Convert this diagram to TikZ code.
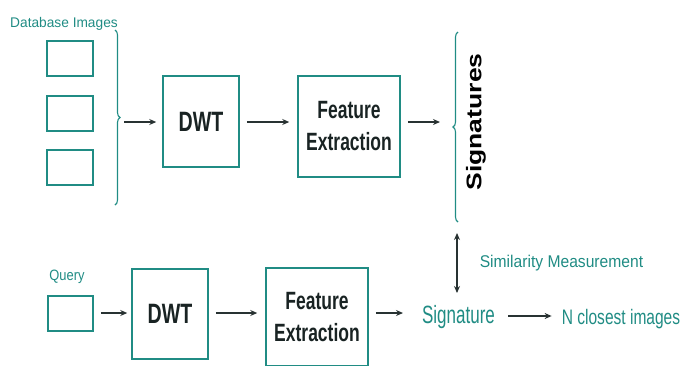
\documentclass[tikz,border=0pt]{standalone}
\usepackage{fontspec}
\setmainfont{Liberation Sans}
\newfontfamily\boxfont{Liberation Sans}[FakeStretch=0.7]
\newcommand\hsq[2]{\scalebox{#1}[1]{#2}}
\usetikzlibrary{arrows.meta,decorations.pathreplacing}
\definecolor{tealc}{RGB}{32,140,132}
\definecolor{arrowc}{RGB}{40,50,50}
\definecolor{boxtext}{RGB}{25,35,35}
\begin{document}
\begin{tikzpicture}[x=1pt,y=-1pt,
  imgbox/.style={draw=tealc,line width=1.5pt,minimum width=46pt,minimum height=35pt,inner sep=0pt},
  procbox/.style={draw=tealc,line width=1.5pt,inner sep=0pt,align=center,text=boxtext,
     font=\boxfont\bfseries\fontsize{25}{32}\selectfont},
  lbl/.style={text=tealc,inner sep=0pt,anchor=base},
  arr/.style={draw=arrowc,line width=1.2pt,-{Stealth[length=7pt,width=6pt]}},
  darr/.style={draw=arrowc,line width=1.2pt,{Stealth[length=7pt,width=6pt]}-{Stealth[length=7pt,width=6pt]}},
  bracec/.style={draw=tealc,line width=1.1pt,decorate,decoration={brace,amplitude=5pt}}]
\useasboundingbox (0,0) rectangle (694,365);
\clip (0,0) rectangle (694,365);
% database images
\node[lbl] (dbl) at (64,27) {\hsq{0.98}{\fontsize{14}{16}\selectfont Database Images}};
\node[imgbox] (db1) at (70,58.5) {};
\node[imgbox] (db2) at (70,113.5) {};
\node[imgbox] (db3) at (70,167.5) {};
\draw[bracec] (115,30) -- (115,205);
\coordinate (b1) at (124,122);
% top row
\node[procbox,minimum width=76pt,minimum height=91pt,font=\boxfont\bfseries\fontsize{28}{32}\selectfont] (dwt1) at (201,121.5) {DWT};
\node[procbox,minimum width=102pt,minimum height=101pt] (fe1) at (349,126.5) {Feature\\Extraction};
\draw[bracec] (458,222) -- (458,32);
\coordinate (b2) at (440,122);
\coordinate (b2top) at (457,233);
\coordinate (sigtop) at (457,293);
\node[inner sep=0pt] (sigs) at (476,122) {\hsq{0.8}{\rotatebox{90}{\bfseries\fontsize{26.5}{30}\selectfont Signatures}}};
\draw[arr] (b1) -- ([xshift=-6pt]b1 -| dwt1.west);
\draw[arr,shorten <=7pt,shorten >=8pt] (dwt1.east |- 0,122) -- (fe1.west |- 0,122);
\draw[arr,shorten <=7pt] (fe1.east |- 0,122) -- (b2);
% bottom row
\node[lbl] (ql) at (67,280) {\hsq{0.86}{\fontsize{15}{17}\selectfont Query}};
\node[imgbox,minimum width=45pt] (q) at (70.5,313.5) {};
\node[procbox,minimum width=76pt,minimum height=90pt,font=\boxfont\bfseries\fontsize{28}{32}\selectfont] (dwt2) at (170,314) {DWT};
\node[procbox,minimum width=102pt,minimum height=98pt] (fe2) at (317,317) {Feature\\Extraction};
\node[lbl] (sig) at (458.5,323.5) {\hsq{0.68}{\fontsize{25}{28}\selectfont Signature}};
\node[lbl] (ncl) at (621,324) {\hsq{0.74}{\fontsize{21}{24}\selectfont N closest images}};
\node[lbl] (sim) at (561.5,267) {\hsq{0.92}{\fontsize{17}{20}\selectfont Similarity Measurement}};
\draw[arr,shorten <=7pt,shorten >=4pt] (q.east |- 0,313) -- (dwt2.west |- 0,313);
\draw[arr,shorten <=7pt,shorten >=8pt] (dwt2.east |- 0,313) -- (fe2.west |- 0,313);
\draw[arr,shorten <=7pt] (fe2.east |- 0,313) -- (403,313);
\draw[arr,shorten <=13pt,shorten >=10pt] (sig.east |- 0,316) -- (ncl.west |- 0,316);
\draw[darr] (b2top) -- (sigtop);
\end{tikzpicture}
\end{document}
